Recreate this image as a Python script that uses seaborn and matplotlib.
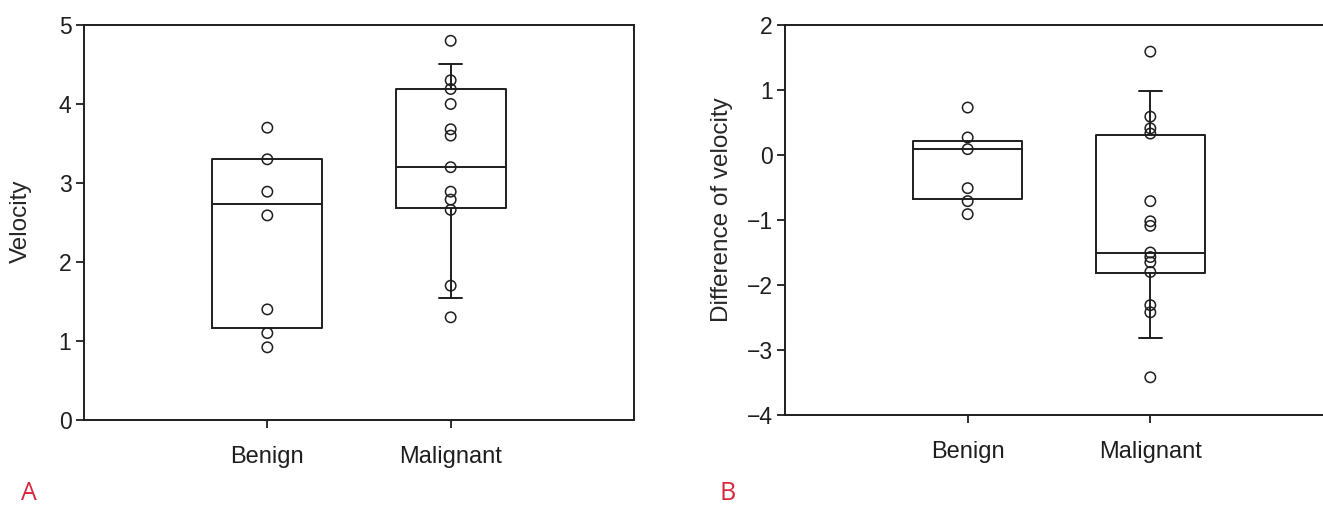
import matplotlib
matplotlib.use("Agg")
import matplotlib.pyplot as plt
import seaborn as sns
import pandas as pd

# ---- data ----
categories = ["Benign", "Malignant"]

velocity_benign = [3.70, 3.30, 2.89, 2.59, 1.40, 1.10, 0.92]
velocity_malignant = [4.80, 4.30, 4.19, 4.00, 3.68, 3.60, 3.20, 2.89, 2.79, 2.66, 1.70, 1.30]

diff_benign = [0.73, 0.27, 0.09, -0.51, -0.71, -0.91]
diff_malignant = [1.59, 0.59, 0.41, 0.33, -0.71, -1.02, -1.09, -1.50, -1.57, -1.65,
                  -1.80, -2.31, -2.42, -3.42]

# box statistics: q1, median, q3, lower whisker, upper whisker (None = no whisker)
velocity_box_benign = dict(q1=1.17, med=2.74, q3=3.30, whislo=None, whishi=None)
velocity_box_malignant = dict(q1=2.68, med=3.20, q3=4.19, whislo=1.54, whishi=4.50)
diff_box_benign = dict(q1=-0.67, med=0.09, q3=0.22, whislo=None, whishi=None)
diff_box_malignant = dict(q1=-1.82, med=-1.51, q3=0.31, whislo=-2.82, whishi=0.99)

velocity_yticks = [0, 1, 2, 3, 4, 5]
diff_yticks = [2, 1, 0, -1, -2, -3, -4]

# ---- styling ----
sns.set_style("white")
plt.rcParams["font.family"] = ["Liberation Sans", "DejaVu Sans"]
plt.rcParams["axes.unicode_minus"] = True

W, H = 1323, 505
fig = plt.figure(figsize=(W / 100, H / 100), dpi=100)

ax1 = fig.add_axes([84 / W, (H - 420) / H, 550 / W, 395 / H])
ax2 = fig.add_axes([785 / W, (H - 415) / H, 548 / W, 390 / H])

INK = "#1e1e1e"


def draw_panel(ax, benign, malignant, box_b, box_m, ylim, yticks, ylabel, label_xy):
    df = pd.DataFrame({
        "group": [categories[0]] * len(benign) + [categories[1]] * len(malignant),
        "value": list(benign) + list(malignant),
    })
    sns.stripplot(data=df, x="group", y="value", order=categories, jitter=False,
                  size=7.5, marker="o", color="black", linewidth=1.1,
                  edgecolor="black", ax=ax, zorder=3)
    for coll in ax.collections:
        coll.set_facecolor("none")
        coll.set_edgecolor(INK)
        coll.set_linewidth(1.1)

    for pos, st in zip([0, 1], [box_b, box_m]):
        has_whisk = st["whislo"] is not None
        stats = dict(q1=st["q1"], med=st["med"], q3=st["q3"],
                     whislo=st["whislo"] if has_whisk else st["q1"],
                     whishi=st["whishi"] if has_whisk else st["q3"],
                     fliers=[])
        ax.bxp([stats], positions=[pos], widths=0.6, showcaps=has_whisk,
               showfliers=False, manage_ticks=False, capwidths=[0.125],
               boxprops=dict(color=INK, linewidth=1.4),
               medianprops=dict(color=INK, linewidth=1.4),
               whiskerprops=dict(color=INK, linewidth=1.4),
               capprops=dict(color=INK, linewidth=1.4))

    ax.set_xlim(-1, 2)
    ax.set_ylim(*ylim)
    ax.set_yticks(yticks)
    ax.set_xticks([0, 1])
    ax.set_xticklabels(categories)
    ax.set_xlabel("")
    ax.set_ylabel(ylabel, fontsize=17.5)
    ax.yaxis.set_label_coords(*label_xy)
    ax.tick_params(axis="both", direction="out", length=6, width=1.3,
                   color=INK, labelcolor=INK, left=True, bottom=True, pad=3)
    ax.tick_params(axis="y", labelsize=16.5)
    ax.tick_params(axis="x", labelsize=17, pad=13)
    for s in ax.spines.values():
        s.set_visible(True)
        s.set_color(INK)
        s.set_linewidth(1.4)


draw_panel(ax1, velocity_benign, velocity_malignant,
           velocity_box_benign, velocity_box_malignant,
           (0, 5), velocity_yticks, "Velocity", (-0.0945, 0.504))
draw_panel(ax2, diff_benign, diff_malignant,
           diff_box_benign, diff_box_malignant,
           (-4, 2), diff_yticks, "Difference of velocity", (-0.095, 0.526))

fig.text(21 / W, 1 - 493 / H, "A", color="#d7263d", fontsize=18,
         ha="left", va="center", family=["Open Sans", "DejaVu Sans"])
fig.text(719 / W, 1 - 493 / H, "B", color="#d7263d", fontsize=18,
         ha="left", va="center", family=["Open Sans", "DejaVu Sans"])

fig.savefig("out.png", dpi=100)
